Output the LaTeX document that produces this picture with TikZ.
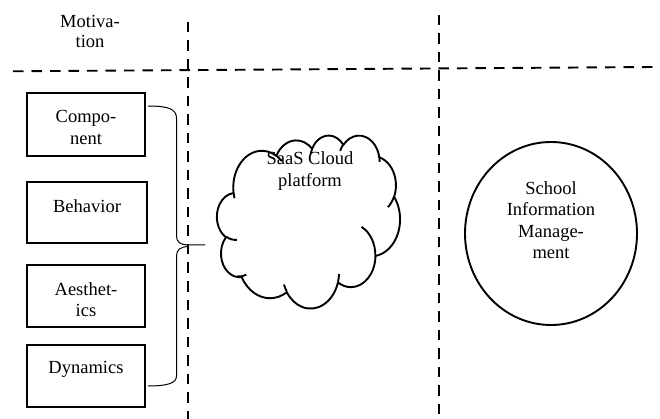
\documentclass[tikz,border=0pt]{standalone}
\usepackage{fontspec}
\setmainfont{Liberation Serif}
\usetikzlibrary{shapes.geometric}
\pgfmathdeclarefunction{pang}{3}{%
  \begingroup\pgfmathparse{atan2(#1*sin(#3),#2*cos(#3))}\pgfmathsmuggle\pgfmathresult\endgroup}
\pgfmathdeclarefunction{pdelta}{4}{%
  \begingroup
  \pgfmathparse{pang(#1,#2,#3+#4)-pang(#1,#2,#3)}\let\dd\pgfmathresult
  \pgfmathparse{\dd-360*round((\dd-(#4))/360)}%
  \pgfmathsmuggle\pgfmathresult\endgroup}
\tikzset{
  boxnode/.style={draw, line width=1.6pt, rectangle, inner sep=0pt},
  txt/.style={align=center, inner sep=0pt, font=\fontsize{18.5}{21.5}\selectfont},
  divider/.style={line width=1.9pt, dash pattern=on 10.5pt off 8pt},
  bracestyle/.style={line width=1pt},
  cloudline/.style={line width=1.9pt, line join=round},
  oarc/.style n args={4}{start angle={pang(#1,#2,#3)}, delta angle={pdelta(#1,#2,#3,#4)},
     x radius=#1pt, y radius=#2pt},
}
\begin{document}
\begin{tikzpicture}[x=1pt,y=-1pt]
\useasboundingbox (0,0) rectangle (660,419);
% dividers
\coordinate (hl) at (13,71.3);
\coordinate (hr) at (655,67);
\coordinate (v1t) at (187.7,22);
\coordinate (v1b) at (187.7,419);
\coordinate (v2t) at (439,15);
\coordinate (v2b) at (439,419);
\draw[divider] (hl) -- (hr);
\draw[divider] (v1t) -- (v1b);
\draw[divider] (v2t) -- (v2b);
\node[txt] (motiv) at (90,31.5) {Motiva-\\[-2pt]tion};
% boxes
\node[boxnode, minimum width=118pt, minimum height=63pt] (comp) at (86,124.5) {};
\node[boxnode, minimum width=120pt, minimum height=61pt] (behav) at (87,212.5) {};
\node[boxnode, minimum width=118pt, minimum height=62pt] (aest) at (86,296) {};
\node[boxnode, minimum width=118pt, minimum height=62pt] (dyn) at (86,376) {};
\node[txt] (compT) at (86,127.5) {Compo-\\nent};
\node[txt] (behavT) at (87,206) {Behavior};
\node[txt] (aestT) at (86,299.5) {Aesthet-\\ics};
\node[txt] (dynT) at (86,369) {Dynamics};
% brace
\coordinate (btop) at (148,106);
\coordinate (bbot) at (148,386);
\coordinate (btip) at (205,245);
\draw[bracestyle] (btop) .. controls (168,106) and (176.5,109) .. (176.5,118) -- (176.5,236)
   .. controls (176.5,242) and (180,245) .. (190,245) -- (btip);
\draw[bracestyle] (188,246.5) .. controls (180,247) and (176.5,250) .. (176.5,256) -- (176.5,376)
   .. controls (176.5,383) and (168,386) .. (bbot);
% cloud
\begin{scope}[shift={(217,135)}, xscale=183/4320, yscale=-173/4320]
\draw[cloudline] (390pt,1437pt)
  arc[oarc={675.3}{919}{-190.4875}{123.7805}]
  arc[oarc={533.3}{726.7}{-144.1024}{89.9452}]
  arc[oarc={436.5}{594.5}{-145.8079}{99.7230}]
  arc[oarc={485.7}{659.5}{-130.9861}{117.2417}]
  arc[oarc={533.3}{727.3}{-78.7089}{109.0269}]
  arc[oarc={677.5}{922}{-46.2673}{130.2690}]
  arc[oarc={578.5}{786.7}{0.6250}{114.0333}]
  arc[oarc={675.2}{921.5}{22.4516}{115.1726}]
  arc[oarc={772}{1054.3}{66.2426}{75.7110}]
  arc[oarc={436}{591.8}{-274.9421}{146.7356}]
  arc[oarc={434.5}{594.5}{-246.8285}{152.5189}]
  -- cycle;
\draw[cloudline]
  (469.3pt,2617.7pt) arc[oarc={434.5}{594.5}{86.7420}{26.4295}]
  (692.8pt,3489.9pt) arc[oarc={436}{591.8}{73.6044}{21.2418}]
  (1647.8pt,3909pt) arc[oarc={675.2}{921.5}{137.6242}{14.0692}]
  (2882.7pt,3475.1pt) arc[oarc={675.2}{921.5}{6.4533}{15.9942}]
  (3412.9pt,2295.4pt) arc[oarc={578.5}{786.7}{-70.2924}{70.9174}]
  (4179.8pt,1535.4pt) arc[oarc={533.3}{727.3}{30.3180}{27.7515}]
  (3832.4pt,542.6pt) arc[oarc={485.7}{659.5}{-13.7443}{14.8572}]
  (2907.8pt,395.2pt) arc[oarc={485.7}{659.5}{-149.1815}{18.1961}]
  (2214.1pt,472pt) arc[oarc={436.5}{594.5}{-163.4943}{17.6881}]
  (1400pt,519.2pt) arc[oarc={675.3}{919}{-66.7070}{12.3194}]
  (412.7pt,1578.9pt) arc[oarc={675.3}{919}{157.6544}{11.8582}];
\end{scope}
\node[txt] (cloudT) at (310,171) {SaaS Cloud\\platform};
% circle
\node[draw, ellipse, line width=1.9pt, minimum width=172pt, minimum height=183pt, inner sep=0pt] (school) at (551,233.5) {};
\node[txt] (schoolT) at (551,220) {School\\Information\\Manage-\\ment};
\end{tikzpicture}
\end{document}
